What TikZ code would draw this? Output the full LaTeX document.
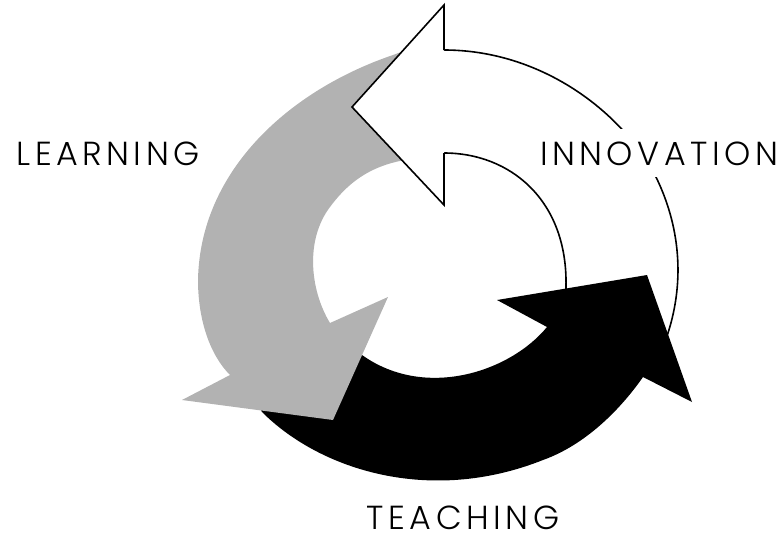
\documentclass[tikz,border=0pt]{standalone}
\usepackage{fontspec}
\setmainfont{Poppins}[UprightFont=* Light]
\newfontfamily\cyclefont{Poppins}[UprightFont=* Light, LetterSpace=13.5]

\tikzset{
  outline/.style={line width=1.2, line join=miter},
  cyclelabel/.style={anchor=base, inner sep=0, text depth=0pt, font=\cyclefont\fontsize{25}{30}\selectfont}
}

\begin{document}
\begin{tikzpicture}[x=0.75pt,y=0.75pt,yscale=-1,xscale=1]
\useasboundingbox (0,0) rectangle (783,536);

%Shape: Curved Arrow, white shaft [id:innovation-shaft]
\draw [outline, fill=white] (440,153) -- (444,153) .. controls (510,153) and (568,200) .. (566,287) -- (565,320) -- (655,370) -- (668,333) .. controls (685,280) and (680,225) .. (655,175) .. controls (620,110) and (540,50) .. (444,50) -- (440,50) -- cycle ;
%Shape: Curved Arrow, black [id:teaching-arrow]
\fill [color={rgb, 255:red, 0; green, 0; blue, 0 }  ,fill opacity=1 ] (255,400) -- (262,412) .. controls (320,470) and (430,505) .. (543,460) .. controls (585,445) and (620,410) .. (643,377) -- (692,402) -- (647,275) -- (497,300) -- (547,327) .. controls (510,372) and (425,400) .. (362,355) -- (330,345) -- cycle ;
%Shape: Curved Arrow, grey [id:learning-arrow]
\fill [color={rgb, 255:red, 178; green, 178; blue, 178 }  ,fill opacity=1 ] (420,45) -- (393,55) .. controls (290,90) and (200,170) .. (198,280) .. controls (198,320) and (210,355) .. (230,375) -- (182,400) -- (333,420) -- (388,297) -- (330,323) .. controls (310,290) and (305,240) .. (330,207) .. controls (350,180) and (375,162) .. (420,158) -- cycle ;
%Shape: Arrow head, white [id:innovation-head]
\fill [white] (444,50) -- (444,5) -- (352,107) -- (444,205) -- (444,153) -- cycle ;
\draw [outline] (444,50) -- (444,5) -- (352,107) -- (444,205) -- (444,153) ;

% Text Nodes
\node [cyclelabel] (learning) at (108,165) {LEARNING};
\node [cyclelabel, fill=white, text height=27pt, text depth=9pt] (innovation) at (659,165) {INNOVATION};
\node [cyclelabel] (teaching) at (463,529) {TEACHING};

\end{tikzpicture}
\end{document}
